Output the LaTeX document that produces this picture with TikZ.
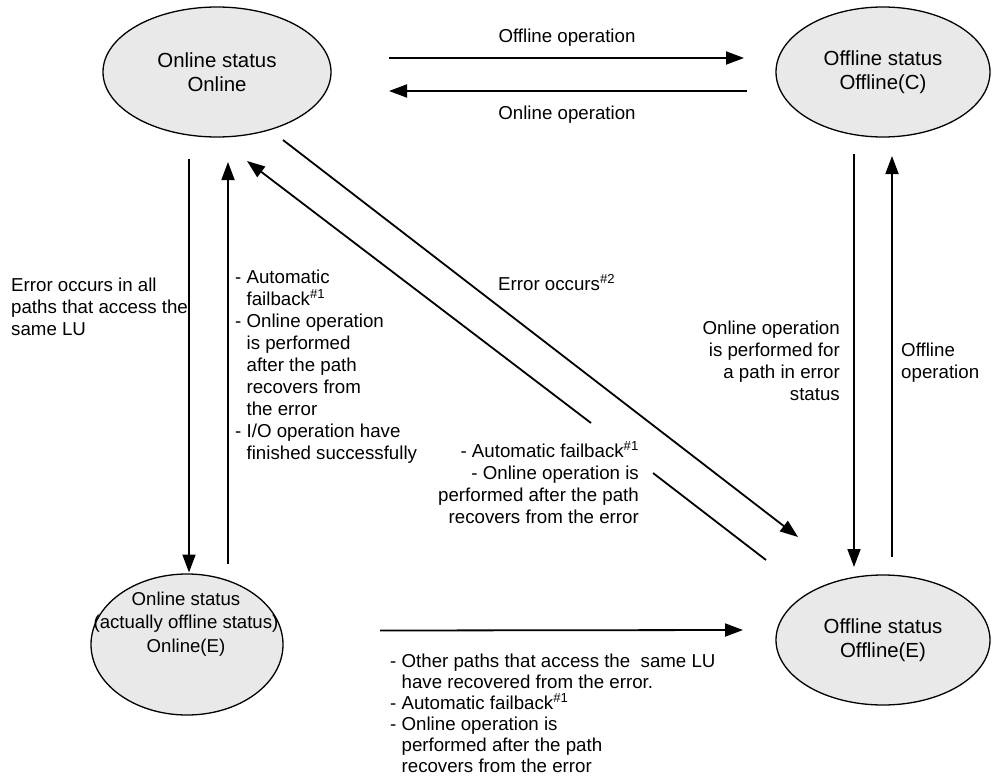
\documentclass[tikz,border=0pt]{standalone}
\usepackage{fontspec}
\setmainfont{Liberation Sans}
\usetikzlibrary{shapes.geometric,arrows.meta,calc}
\definecolor{statefill}{RGB}{233,233,233}
\tikzset{
  state/.style={ellipse, draw=black, line width=1.3pt, fill=statefill,
    inner sep=0pt, align=center, font=\fontsize{20.4}{24}\selectfont},
  flow/.style={draw=black, line width=1.8pt, -{Triangle[length=18pt,width=13pt]}},
  plain/.style={draw=black, line width=1.8pt},
  note/.style={inner sep=0pt, font=\fontsize{18.7}{22}\selectfont},
}
% hanging indent matching the width of a leading "- "
\newcommand{\ind}{\hphantom{- }}
\begin{document}
\begin{tikzpicture}[x=1pt,y=-1pt]
\useasboundingbox (0,0) rectangle (996,776);

% states
\node[state, minimum width=228pt, minimum height=130pt] (on)   at (217,72)  {Online status\\Online};
\node[state, minimum width=214pt, minimum height=130pt] (offc) at (883,72)  {Offline status\\Offline(C)};
\node[state, minimum width=192pt, minimum height=141pt] (onE)  at (187,644.5) {};
\node[align=center, inner sep=0pt, font=\fontsize{18.6}{23.5}\selectfont] (onEtext) at (186,624)
  {Online status\\(actually offline status)\\Online(E)};
\node[state, minimum width=214pt, minimum height=130pt] (offE) at (883,640) {Offline status\\Offline(E)};

% transitions
\draw[flow] ($(on)+(172,-14)$) -- ($(offc)+(-139,-14)$);
\draw[flow] ($(offc)+(-136,19)$) -- ($(on)+(172,19)$);
\draw[flow] ($(on)+(-28,87)$) -- ($(onE)+(2,-72)$);
\draw[flow] ($(onE)+(41,-81)$) -- ($(on)+(11,90)$);
\coordinate (g1) at (653,473);
\coordinate (g2) at (591,423);
\draw[plain] ($(offE)+(-117,-80)$) -- (g1);
\draw[flow] (g2) -- ($(on)+(30,89)$);
\draw[flow] ($(on)+(66,68)$) -- ($(offE)+(-85,-103)$);
\draw[flow] ($(offc)+(-29,82)$) -- ($(offE)+(-29,-73)$);
\draw[flow] ($(offE)+(9,-83)$) -- ($(offc)+(9,84)$);
\draw[flow] ($(onE)+(193,-14)$) -- ($(offE)+(-140,-10)$);

% transition labels (multi-line nodes are anchored on their last baseline)
\node[note, anchor=base] (lofft) at (567,43) {Offline operation};
\node[note, anchor=base] (lont) at (567,119) {Online operation};
\node[note, anchor=base west, align=left] (lerr) at (11,335)
  {Error occurs in all\\paths that access the\\same LU};
\node[note, anchor=base west, align=left] (lback) at (235,459)
  {- Automatic\\\ind failback\textsuperscript{\#1}\\- Online operation\\\ind is performed\\\ind after the path\\\ind recovers from\\\ind the error\\- I/O operation have\\\ind finished successfully};
\node[note, anchor=base west] (lerr2) at (498,290) {Error occurs\textsuperscript{\#2}};
\node[note, anchor=base east, align=right] (ldiag) at (639,523)
  {- Automatic failback\textsuperscript{\#1}\\- Online operation is\\performed after the path\\recovers from the error};
\node[note, anchor=base east, align=right] (lonerr) at (840,400)
  {Online operation\\is performed for\\a path in error\\status};
\node[note, anchor=base west, align=left] (loffop) at (901,378) {Offline\\operation};
\node[note, anchor=base west, align=left, font=\fontsize{18.7}{21}\selectfont] (lrec) at (390,772)
  {- Other paths that access the\ \ same LU\\\ind have recovered from the error.\\- Automatic failback\textsuperscript{\#1}\\- Online operation is\\\ind performed after the path\\\ind recovers from the error};
\end{tikzpicture}
\end{document}
